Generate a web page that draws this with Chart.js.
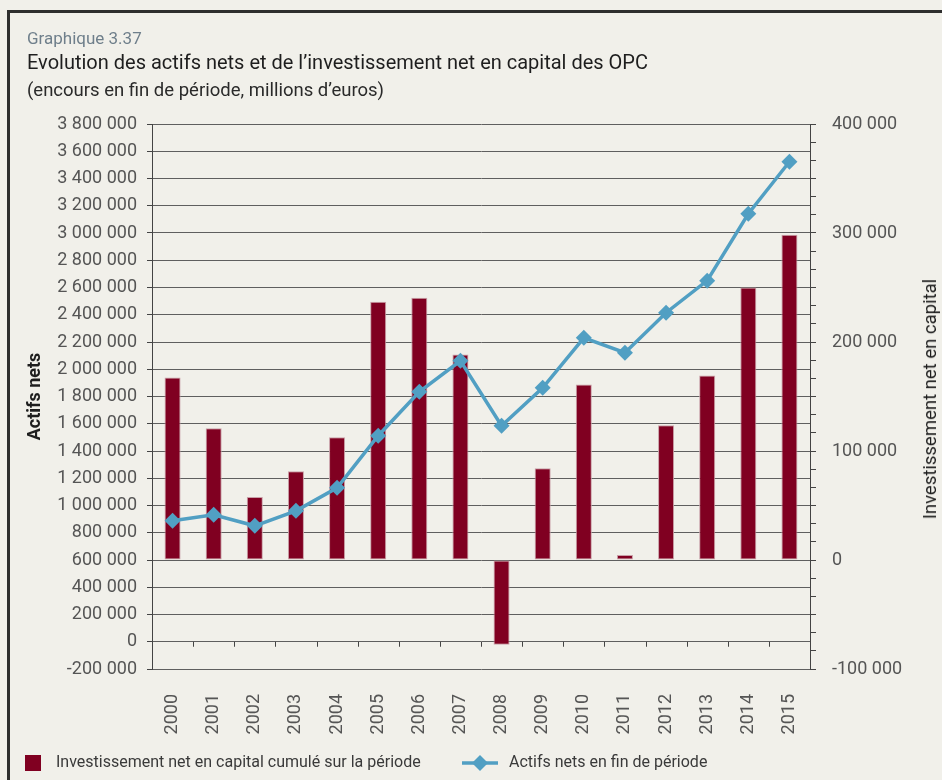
<!DOCTYPE html>
<html lang="fr">
<head>
<meta charset="utf-8">
<title>Graphique 3.37</title>
<script src="https://cdn.jsdelivr.net/npm/chart.js@4.4.1/dist/chart.umd.min.js"></script>
<style>
  html, body { margin: 0; padding: 0; background: #f1f0ea; }
  body { width: 942px; height: 780px; position: relative; overflow: hidden; font-family: Roboto, "Noto Sans", sans-serif; }
  .frame { position: absolute; left: 7px; top: 10px; right: -10px; bottom: -10px; border-left: 3px solid #2e2e2e; border-top: 3px solid #2e2e2e; }
  #chart { position: absolute; left: 0; top: 0; }
  .head { position: absolute; left: 27px; white-space: nowrap; }
  .num { top: 28px; font-size: 17px; color: #6f7f8b; }
  .title { top: 50px; font-size: 20px; color: #1e1e1e; }
  .sub { top: 79px; font-size: 18.5px; color: #2a2a2a; }
  .rtitle { position: absolute; left: 930px; top: 399px; transform: translate(-50%, -50%) rotate(-90deg); font-size: 18.5px; color: #1e1e1e; white-space: nowrap; }
  .legend { position: absolute; top: 752px; left: 0; font-size: 16px; color: #3a3a3a; }
  .legend span { position: absolute; white-space: nowrap; line-height: 20px; }
  .legend svg { position: absolute; }
</style>
</head>
<body>
<div class="frame"></div>
<canvas id="chart" width="942" height="780"></canvas>
<div class="head num">Graphique 3.37</div>
<div class="head title">Evolution des actifs nets et de l’investissement net en capital des OPC</div>
<div class="head sub">(encours en fin de période, millions d’euros)</div>
<div class="rtitle" id="rightTitle"></div>
<div class="legend" id="legend"></div>
<script>
// years on the category axis
const years = ["2000", "2001", "2002", "2003", "2004", "2005", "2006", "2007",
               "2008", "2009", "2010", "2011", "2012", "2013", "2014", "2015"];

// net capital investment over the period (right axis)
const investissement = [167500, 120800, 57700, 81500, 112600, 237000, 240700, 188600,
                        -77800, 84200, 161100, 4600, 123600, 169300, 249900, 298400];

// net assets at end of period (left axis)
const actifsNets = [888000, 932000, 851000, 961000, 1130000, 1512000, 1835000, 2062000,
                    1585000, 1864000, 2231000, 2121000, 2415000, 2650000, 3141000, 3523000];

const leftTicks = [-200000, 3800000, 200000];           // min, max, step
const rightTicks = [-100000, 0, 100000, 200000, 300000, 400000];
const rightMinorPerMajor = 6;

const labelBar = "Investissement net en capital cumulé sur la période";
const labelLine = "Actifs nets en fin de période";
const titleLeft = "Actifs nets";
const titleRight = "Investissement net en capital";

const barColor = "#800021";
const lineColor = "#519fc3";
const tickColor = "#555";
const gridColor = "#5f5f5f";

const fmt = v => String(Math.round(v)).replace(/\B(?=(\d{3})+(?!\d))/g, " ");

// short tick marks under the zero line, between each year
const zeroTicks = {
  id: "zeroTicks",
  beforeDatasetsDraw(chart) {
    const xs = chart.scales.x, ys = chart.scales.y;
    const y0 = ys.getPixelForValue(0);
    const ctx = chart.ctx;
    ctx.save();
    ctx.strokeStyle = "#444";
    ctx.lineWidth = 1;
    ctx.beginPath();
    for (let i = 1; i < years.length; i++) {
      const x = Math.round((xs.getPixelForValue(i - 1) + xs.getPixelForValue(i)) / 2) + 0.5;
      ctx.moveTo(x, y0);
      ctx.lineTo(x, y0 + 5);
    }
    ctx.stroke();
    ctx.restore();
  }
};

new Chart(document.getElementById("chart"), {
  type: "bar",
  data: {
    labels: years,
    datasets: [
      {
        type: "line",
        label: labelLine,
        data: actifsNets,
        yAxisID: "y",
        order: 0,
        borderColor: lineColor,
        backgroundColor: lineColor,
        borderWidth: 3.5,
        tension: 0,
        pointStyle: "rectRot",
        pointRadius: 8,
        pointBorderWidth: 0,
        pointBackgroundColor: lineColor
      },
      {
        type: "bar",
        label: labelBar,
        data: investissement,
        yAxisID: "y1",
        order: 1,
        backgroundColor: barColor,
        borderColor: "#c9a0a8",
        borderWidth: 1,
        borderSkipped: false,
        barPercentage: 0.78,
        categoryPercentage: 0.5
      }
    ]
  },
  options: {
    responsive: false,
    animation: false,
    layout: { padding: { left: 20, right: 0, top: 124, bottom: 0 } },
    plugins: { legend: { display: false }, tooltip: { enabled: false } },
    scales: {
      x: {
        grid: { display: false },
        border: { display: false },
        ticks: { minRotation: 90, maxRotation: 90, padding: 17, color: tickColor, font: { family: "Roboto", size: 18 } },
        afterFit: s => { s.height = 111; }
      },
      y: {
        position: "left",
        min: leftTicks[0],
        max: leftTicks[1],
        ticks: { stepSize: leftTicks[2], padding: 10, color: tickColor, font: { family: "Roboto", size: 18 }, callback: v => fmt(v) },
        grid: { color: gridColor, tickLength: 5, tickColor: "#444" },
        border: { color: "#444" },
        title: { display: true, text: titleLeft, color: "#1e1e1e", font: { family: "Roboto", size: 18, weight: "bold" }, padding: { top: 5, bottom: 0 } },
        afterFit: s => { s.width = 132; }
      },
      y1: {
        position: "right",
        min: rightTicks[0],
        max: rightTicks[rightTicks.length - 1],
        afterBuildTicks: s => {
          const t = [];
          for (let i = 0; i < rightTicks.length - 1; i++) {
            const a = rightTicks[i], b = rightTicks[i + 1];
            for (let k = 0; k < rightMinorPerMajor; k++) t.push({ value: a + (b - a) * k / rightMinorPerMajor });
          }
          t.push({ value: rightTicks[rightTicks.length - 1] });
          s.ticks = t;
        },
        ticks: {
          autoSkip: false,
          padding: 16,
          color: tickColor,
          font: { family: "Roboto", size: 18 },
          callback: v => rightTicks.some(r => Math.abs(r - v) < 1) ? fmt(v) : ""
        },
        grid: { drawOnChartArea: false, tickLength: 6, color: "#444" },
        border: { color: "#444" },
        afterFit: s => { s.width = 132; }
      }
    }
  },
  plugins: [zeroTicks]
});

document.getElementById("rightTitle").textContent = titleRight;

// legend: a square for the bars, a line with a diamond for the series
document.getElementById("legend").innerHTML =
  `<svg style="left:25px;top:3px" width="16" height="16"><rect width="16" height="16" fill="${barColor}"/></svg>` +
  `<span style="left:56px">${labelBar}</span>` +
  `<svg style="left:462px;top:1px" width="36" height="20"><line x1="0" y1="10" x2="36" y2="10" stroke="${lineColor}" stroke-width="3.5"/>` +
  `<polygon points="18,2 26,10 18,18 10,10" fill="${lineColor}"/></svg>` +
  `<span style="left:509px">${labelLine}</span>`;
</script>
</body>
</html>
